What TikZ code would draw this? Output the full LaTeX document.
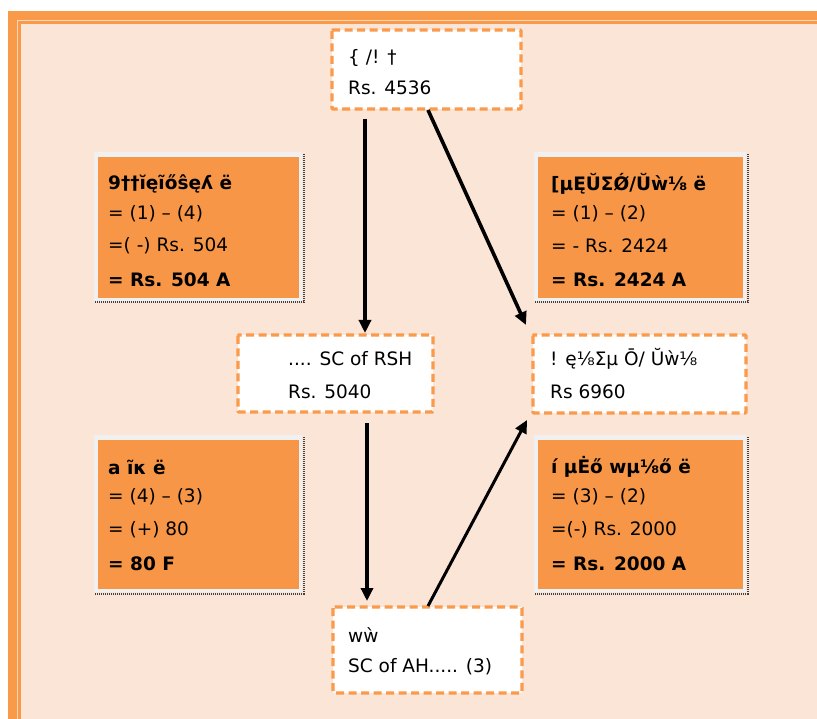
\documentclass[tikz,border=0pt]{standalone}
\usepackage{fontspec}
\setmainfont{DejaVu Sans}
\usetikzlibrary{arrows.meta}
\definecolor{peach}{HTML}{FBE5D6}
\definecolor{orfill}{HTML}{F79646}
\definecolor{ordash}{HTML}{FA9A4A}
\definecolor{frameor}{HTML}{F9994A}
\definecolor{boxgray}{HTML}{F0F0F0}
\tikzset{
  dbox/.style={draw=ordash, line width=3.2pt, dash pattern=on 8pt off 4.5pt, fill=white, rounded corners=1pt},
  obox/.style={fill=orfill},
  gbox/.style={fill=boxgray},
  shadowln/.style={draw=black!75, line width=2pt, dash pattern=on 1pt off 1pt},
  txt/.style={anchor=west, inner sep=0pt, font=\fontsize{18.5}{20}\selectfont},
  btxt/.style={txt, font=\fontsize{18.5}{20}\selectfont\bfseries},
  arr/.style={draw=black, line width=3.6pt, -{Triangle[length=13pt,width=12pt]}},
}
\begin{document}
\begin{tikzpicture}[x=1pt,y=-1pt]
\useasboundingbox (0,0) rectangle (817,719);
\fill[white] (0,0) rectangle (817,719);
% frame
\fill[frameor] (8,11) rectangle (830,730);
\draw[white!60!frameor, line width=1pt] (17.5,20.5) -- (830,20.5);
\draw[white!60!frameor, line width=1pt] (17.5,20.5) -- (17.5,730);
\fill[peach] (21,24) rectangle (830,730);

% dashed white boxes
\draw[dbox] (332,30) rectangle (521,109);
\node (top) at (426.5,69.5) {};
\draw[dbox] (238,335) rectangle (433,412);
\node (ml) at (335.5,373.5) {};
\draw[dbox] (533,335) rectangle (746,413);
\node (mr) at (639.5,374) {};
\draw[dbox] (333,607) rectangle (522,693);
\node (bot) at (427.5,650) {};

% orange boxes
\foreach \xa/\ya/\xb/\yb in {94/152/302/301, 534/152/746/301, 94/435/302/592, 534/435/746/592}{
  \fill[gbox] (\xa,\ya) rectangle (\xb,\yb);
  \fill[obox] (\xa+4,\ya+5) rectangle (\xb-3,\yb-3);
  \draw[shadowln] (\xb+1.5,\ya+2) -- (\xb+1.5,\yb+1.5) -- (\xa,\yb+1.5);
}

% texts top
\node[txt] (t1) at (348,58) {\{ /! †};
\node[txt] (t2) at (348,88) {Rs. 4536};
% left box 1
\node[btxt] (a1) at (108,184) {9††ĭęĩőŝęʎ ë};
\node[txt] (a2) at (108,214) {= (1) – (4)};
\node[txt] (a3) at (108,246) {=( -) Rs. 504};
\node[btxt] (a4) at (108,280) {= Rs. 504 A};
% right box 1
\node[btxt] (b1) at (551,184) {[µĘŬΣǾ/Ŭẁ⅛ ë};
\node[txt] (b2) at (551,214) {= (1) – (2)};
\node[txt] (b3) at (551,246) {= - Rs. 2424};
\node[btxt] (b4) at (551,280) {= Rs. 2424 A};
% middle left
\node[txt] (c1) at (288,359) {.... SC of RSH};
\node[txt] (c2) at (288,392) {Rs. 5040};
% middle right
\node[txt] (d1) at (550,359) {! ę⅛Σµ Ō/ Ŭẁ⅛};
\node[txt] (d2) at (550,392) {Rs 6960};
% left box 2
\node[btxt] (e1) at (108,467) {a ĩκ ë};
\node[txt] (e2) at (108,497) {= (4) – (3)};
\node[txt] (e3) at (108,530) {= (+) 80};
\node[btxt] (e4) at (108,564) {= 80 F};
% right box 2
\node[btxt] (f1) at (551,467) {í µĖő wµ⅛ő ë};
\node[txt] (f2) at (551,497) {= (3) – (2)};
\node[txt] (f3) at (551,530) {=(-) Rs. 2000};
\node[btxt] (f4) at (551,564) {= Rs. 2000 A};
% bottom
\node[txt] (g1) at (348,635) {wẁ};
\node[txt] (g2) at (348,667) {SC of AH..... (3)};

% arrows
\coordinate (s1) at (365,119);
\coordinate (e1p) at (365,333);
\coordinate (s2) at (428,110);
\coordinate (e2p) at (526,325);
\coordinate (s3) at (367,423);
\coordinate (e3p) at (367,601);
\coordinate (s4) at (428,606);
\coordinate (e4p) at (527,420);
\draw[arr] (s1) -- (e1p);
\draw[arr] (s2) -- (e2p);
\draw[arr] (s3) -- (e3p);
\draw[arr, line width=3pt] (s4) -- (e4p);
\end{tikzpicture}
\end{document}
